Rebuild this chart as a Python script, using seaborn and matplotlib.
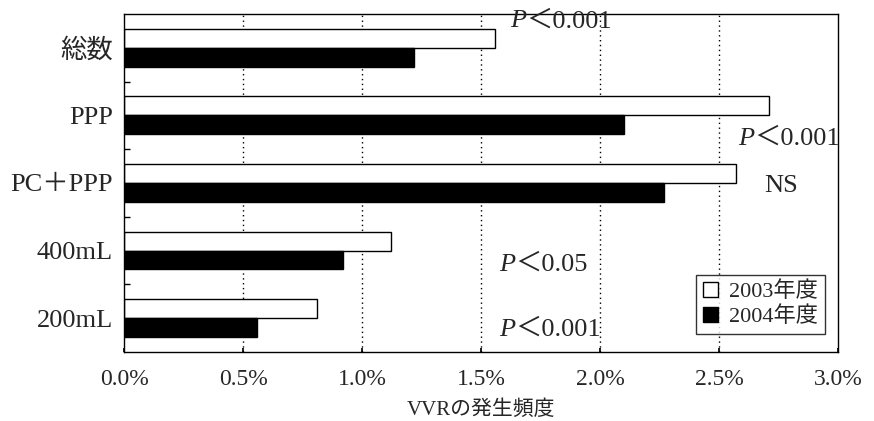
import pandas as pd
import seaborn as sns
import matplotlib.pyplot as plt
import matplotlib.ticker as mtick

# データ（VVR発生頻度, %）
categories = ['総数', 'PPP', 'PC＋PPP', '400mL', '200mL']
years = ['2003年度', '2004年度']
vals_2003 = [1.56, 2.71, 2.57, 1.12, 0.81]
vals_2004 = [1.22, 2.10, 2.27, 0.92, 0.56]
p_labels = ['P＜0.001', 'P＜0.001', 'NS', 'P＜0.05', 'P＜0.001']
p_x = [1.62, 2.58, 2.69, 1.575, 1.575]
p_y = [-0.39, 1.35, 2.04, 3.21, 4.17]

sns.set_theme(style='white')
FONT = ['Liberation Serif', 'Noto Sans CJK JP', 'DejaVu Sans']
plt.rcParams['font.family'] = FONT

df = pd.DataFrame({
    'cat': categories * 2,
    'year': [years[0]] * len(categories) + [years[1]] * len(categories),
    'val': vals_2003 + vals_2004,
})

fig = plt.figure(figsize=(8.74, 4.21), dpi=100)
ax = fig.add_axes([0.142, 0.164, 0.817, 0.803])

sns.barplot(data=df, y='cat', x='val', hue='year', orient='h',
            palette={years[0]: 'white', years[1]: 'black'},
            edgecolor='black', linewidth=1.0, width=0.56, ax=ax)

ax.set_xlim(0, 3.0)
ax.set_ylim(4.5, -0.5)
ax.set_xticks([0, 0.5, 1.0, 1.5, 2.0, 2.5, 3.0])
ax.xaxis.set_major_formatter(mtick.StrMethodFormatter('{x:.1f}%'))
for x in [0.5, 1.0, 1.5, 2.0, 2.5]:
    ax.axvline(x, color='black', linestyle=(0, (1, 2.5)), linewidth=1.0, zorder=0)

ax.set_yticks(range(len(categories)))
ax.set_yticks([0.5, 1.5, 2.5, 3.5], minor=True)
ax.tick_params(axis='y', which='major', length=0, labelsize=19, pad=8)
ax.tick_params(axis='y', which='minor', direction='in', length=4, left=True, color='black')
ax.tick_params(axis='x', direction='in', length=3, bottom=True, labelsize=17, pad=12, color='black')
for lab in ax.get_yticklabels():
    lab.set_family(FONT)

for s in ax.spines.values():
    s.set_color('black')
    s.set_linewidth(1.0)

ax.set_ylabel('')
ax.set_xlabel('VVRの発生頻度', fontsize=15, labelpad=8)

for lab, x, y in zip(p_labels, p_x, p_y):
    if lab.startswith('P'):
        t = ax.text(x, y, 'P', fontsize=19, style='italic', va='center', ha='left')
        ax.annotate(lab[1:], xy=(1, 0.5), xycoords=t, fontsize=19,
                    va='center', ha='left')
    else:
        ax.text(x, y, lab, fontsize=19, va='center', ha='left')

leg = ax.legend(loc='lower right', frameon=True, fontsize=16, handlelength=0.7,
                handleheight=0.7, handletextpad=0.5, borderpad=0.3,
                labelspacing=0.2, fancybox=False, bbox_to_anchor=(0.997, 0.02))
leg.get_frame().set_edgecolor('black')
leg.get_frame().set_linewidth(1.0)
leg.set_title(None)

fig.savefig('out.png', dpi=100)
